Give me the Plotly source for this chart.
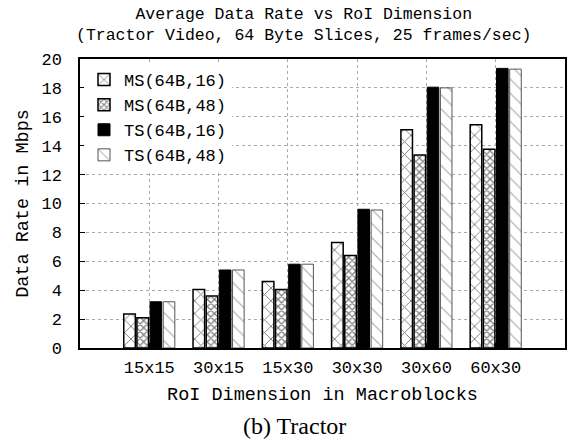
import plotly.graph_objects as go

categories = ["15x15", "30x15", "15x30", "30x30", "30x60", "60x30"]
ms_64b_16 = [2.35, 4.05, 4.6, 7.3, 15.1, 15.45]
ms_64b_48 = [2.1, 3.6, 4.05, 6.4, 13.35, 13.75]
ts_64b_16 = [3.2, 5.4, 5.8, 9.6, 18.05, 19.35]
ts_64b_48 = [3.2, 5.4, 5.8, 9.55, 18.0, 19.3]
series_names = ["MS(64B,16)", "MS(64B,48)", "TS(64B,16)", "TS(64B,48)"]

MONO = "Liberation Mono, Courier New, monospace"
FS = 17

W, H = 571, 443
ML, MR, MT, MB = 80, 6, 59, 95
PH = H - MT - MB


def py(px):
    """pixel y (from top) -> paper y"""
    return (H - MB - px) / PH


def px_(x):
    return (x - ML) / (W - ML - MR)


fig = go.Figure()
fig.add_trace(go.Bar(
    x=categories, y=ms_64b_16, name=series_names[0],
    marker=dict(color="white", line=dict(color="black", width=1.5),
                pattern=dict(shape="x", fgcolor="black", bgcolor="white", size=9, solidity=0.2)),
))
fig.add_trace(go.Bar(
    x=categories, y=ms_64b_48, name=series_names[1],
    marker=dict(color="white", line=dict(color="black", width=1.5),
                pattern=dict(shape="x", fgcolor="black", bgcolor="white", size=5, solidity=0.45)),
))
fig.add_trace(go.Bar(
    x=categories, y=ts_64b_16, name=series_names[2],
    marker=dict(color="black", line=dict(color="black", width=1)),
))
fig.add_trace(go.Bar(
    x=categories, y=ts_64b_48, name=series_names[3],
    marker=dict(color="white", line=dict(color="#555555", width=1),
                pattern=dict(shape="\\", fgcolor="#666666", bgcolor="white", size=10, solidity=0.12)),
))

fig.update_layout(
    width=W, height=H,
    margin=dict(l=ML, r=MR, t=MT, b=MB, autoexpand=False),
    paper_bgcolor="white", plot_bgcolor="white",
    barmode="group", bargap=0.24, bargroupgap=0.12,
    font=dict(family=MONO, size=FS, color="black"),
    showlegend=True,
    legend=dict(
        x=px_(84), y=py(62), xanchor="left", yanchor="top",
        bgcolor="white", borderwidth=0,
        font=dict(family=MONO, size=FS),
        tracegroupgap=0,
    ),
    xaxis=dict(
        range=[-1, 6], showline=True, linecolor="black", linewidth=1.5, mirror=True,
        ticks="inside", ticklen=5, tickcolor="black",
        showgrid=True, gridcolor="#aaaaaa", griddash="dot", gridwidth=1,
        automargin=False,
        title=dict(text="RoI Dimension in Macroblocks", standoff=10, font=dict(family=MONO, size=18.5)),
        tickfont=dict(family=MONO, size=FS),
        ticklabelstandoff=3,
    ),
    yaxis=dict(
        range=[0, 20], dtick=2, showline=True, linecolor="black", linewidth=1.5, mirror=True,
        ticks="inside", ticklen=5, tickcolor="black",
        showgrid=True, gridcolor="#aaaaaa", griddash="dot", gridwidth=1,
        zeroline=False, automargin=False,
        title=dict(text="Data Rate in Mbps", standoff=8, font=dict(family=MONO, size=18.5)),
        tickfont=dict(family=MONO, size=FS),
        ticklabelstandoff=13,
    ),
    annotations=[
        dict(
            text="Average Data Rate vs RoI Dimension<br>(Tractor Video, 64 Byte Slices, 25 frames/sec)",
            x=px_(303.5), xref="paper", xanchor="center",
            y=py(3), yref="paper", yanchor="top",
            showarrow=False, font=dict(family=MONO, size=16.5, color="black"),
        ),
        dict(
            text="(b) Tractor", x=px_(294), xref="paper", xanchor="center",
            y=py(426), yref="paper", yanchor="middle",
            showarrow=False,
            font=dict(family="Liberation Serif, DejaVu Serif, serif", size=24, color="black"),
        ),
    ],
)

fig.write_html(
    "out.html",
    config={"displayModeBar": False},
    post_script="document.body.style.margin='0';document.body.style.overflow='hidden';",
)
